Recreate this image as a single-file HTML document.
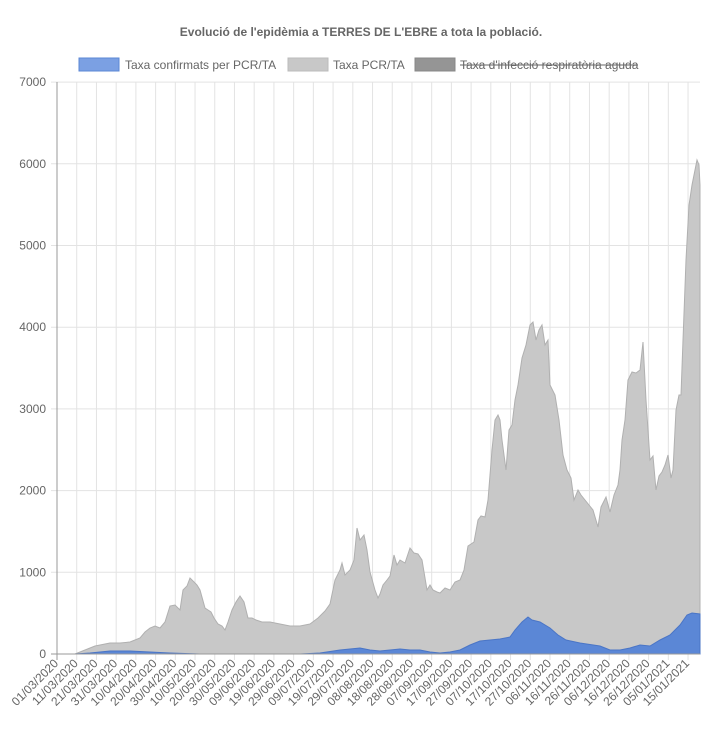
<!DOCTYPE html><html><head><style>body{margin:0;background:#fff}svg{display:block;font-family:"Liberation Sans",Arial,sans-serif}</style></head><body>
<svg width="722" height="742" xmlns="http://www.w3.org/2000/svg">
<text x="361" y="36" text-anchor="middle" font-size="12" font-weight="bold" fill="#666">Evolució de l'epidèmia a TERRES DE L'EBRE a tota la població.</text>
<rect x="79" y="58" width="40" height="13" fill="#7ba0e3" stroke="#5b87d6"/>
<text x="125" y="69" font-size="12" fill="#666">Taxa confirmats per PCR/TA</text>
<rect x="288" y="58" width="40" height="13" fill="#c8c8c8" stroke="#bbb"/>
<text x="333" y="69" font-size="12" fill="#666">Taxa PCR/TA</text>
<rect x="415" y="58" width="40" height="13" fill="#959595" stroke="#888"/>
<text x="460" y="69" font-size="12" fill="#666">Taxa d'infecció respiratòria aguda</text>
<line x1="460" y1="65" x2="638" y2="65" stroke="#666" stroke-width="1"/>
<g id="grid" stroke="#e3e3e3" stroke-width="1"></g>
<g id="lab" font-size="12" fill="#666"></g>
<path id="gray" fill="#c8c8c8" stroke="#b0b0b0" stroke-width="1"/>
<path id="blue" fill="#5b87d6" stroke="#4a75c6" stroke-width="1"/>
<line x1="57" y1="82" x2="57" y2="660" stroke="#999"/>
<line x1="51" y1="654" x2="700" y2="654" stroke="#999"/>
</svg>
<script>
const ns="http://www.w3.org/2000/svg",g=document.getElementById('grid'),l=document.getElementById('lab');
function el(p,t,a,txt){const e=document.createElementNS(ns,t);for(const k in a)e.setAttribute(k,a[k]);if(txt)e.textContent=txt;p.appendChild(e);}
for(let k=0;k<=7;k++){const y=654-81.7*k;el(g,'line',{x1:51,x2:700,y1:y,y2:y});el(l,'text',{x:46,y:y+4,'text-anchor':'end'},String(k*1000));}
const labels=["01/03/2020","11/03/2020","21/03/2020","31/03/2020","10/04/2020","20/04/2020","30/04/2020","10/05/2020","20/05/2020","30/05/2020","09/06/2020","19/06/2020","29/06/2020","09/07/2020","19/07/2020","29/07/2020","08/08/2020","18/08/2020","28/08/2020","07/09/2020","17/09/2020","27/09/2020","07/10/2020","17/10/2020","27/10/2020","06/11/2020","16/11/2020","26/11/2020","06/12/2020","16/12/2020","26/12/2020","05/01/2021","15/01/2021"];
labels.forEach((t,i)=>{const x=57+i*19.72;el(g,'line',{x1:x,x2:x,y1:82,y2:660});el(l,'text',{x:x+2,y:664,'text-anchor':'end',transform:`rotate(-45 ${x+2} 664)`},t);});
const gp=[57,654,75,654,85,650,95,646,100,645,110,643,120,643,130,642,135,640,140,638,145,632,150,628,155,626,160,628,165,622,170,606,175,605,180,610,183,590,187,586,190,578,194,582,197,585,200,590,205,608,208,610,211,612,214,618,218,624,222,626,225,630,228,622,232,610,236,602,240,596,244,602,248,618,252,618,256,620,262,622,270,622,280,624,290,626,300,626,310,624,318,618,325,611,330,604,335,580,340,570,342,563,345,575,350,570,354,560,357,528,360,540,364,535,367,550,370,572,375,590,378,598,380,594,383,585,387,580,390,576,394,555,397,565,400,560,405,563,410,548,414,553,418,554,422,560,427,590,430,585,433,590,437,592,440,593,445,588,450,590,455,582,460,580,464,570,468,546,474,542,478,520,481,516,485,517,488,500,492,450,495,420,498,415,500,420,502,440,506,470,509,430,512,425,515,400,518,385,522,358,526,345,530,325,533,322,536,340,539,330,542,325,545,345,548,340,550,385,555,395,559,420,563,455,567,470,571,478,574,500,578,490,581,495,585,500,589,505,593,510,598,527,601,507,606,497,610,512,614,495,618,485,620,470,622,440,625,420,628,380,632,372,636,373,640,370,643,342,646,400,650,460,653,456,656,490,659,476,662,472,665,465,668,455,671,478,673,470,676,410,679,395,681,395,683,340,686,260,689,205,692,185,695,170,697,160,699,165,700,185,700,654];
const bp=[57,654,75,654,90,653,110,651,130,651,150,652,170,653,200,654,300,654,320,653,340,650,350,649,360,648,370,650,380,651,390,650,400,649,410,650,420,650,430,652,440,653,450,652,460,650,470,645,480,641,490,640,500,639,510,637,515,630,522,622,528,617,532,620,540,622,550,628,558,635,566,640,580,643,600,646,610,650,620,650,630,648,640,645,650,646,660,640,670,635,680,625,687,615,692,613,700,614,700,654];
function d(a){let s='M'+a[0]+' '+a[1];for(let i=2;i<a.length;i+=2)s+='L'+a[i]+' '+a[i+1];return s+'Z';}
document.getElementById('gray').setAttribute('d',d(gp));document.getElementById('blue').setAttribute('d',d(bp));
</script>
</body></html>
